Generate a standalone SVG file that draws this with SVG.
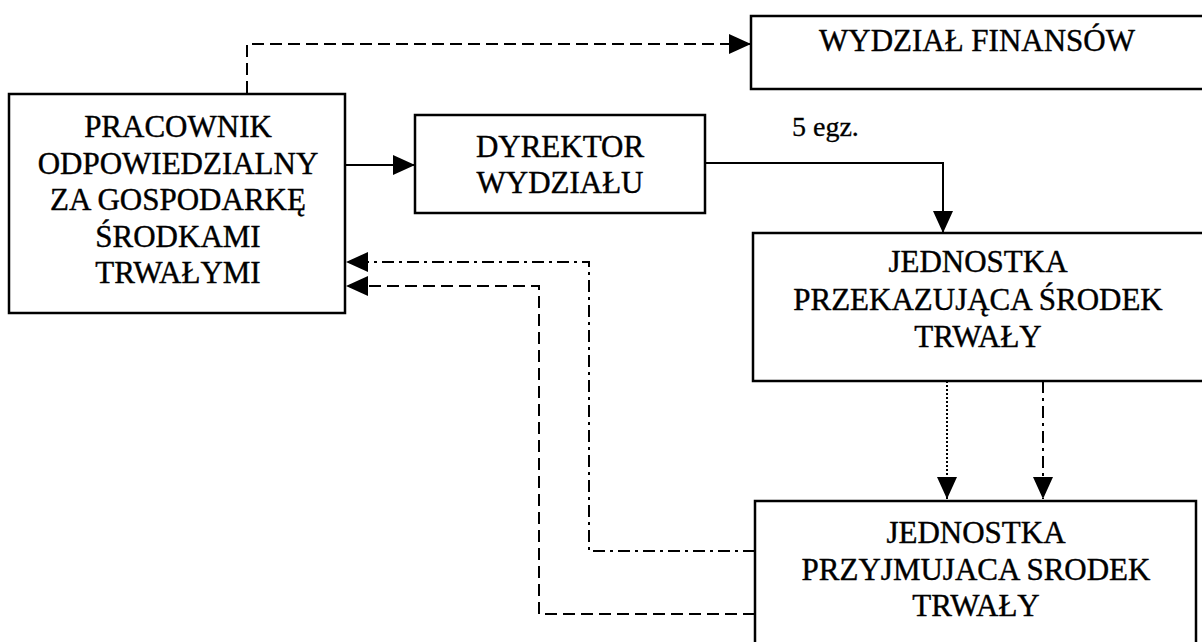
<svg xmlns="http://www.w3.org/2000/svg" width="1202" height="642" viewBox="0 0 1202 642">
<style>
.box{fill:#fff;stroke:#000;stroke-width:2.5}
.t{font-family:"Liberation Serif","Times New Roman",serif;font-size:31px;fill:#000;stroke:#000;stroke-width:0.4;text-anchor:middle}
.s{font-family:"Liberation Serif","Times New Roman",serif;font-size:28px;fill:#000;stroke:#000;stroke-width:0.3}
.ln{fill:none;stroke:#000;stroke-width:2}
.dash{stroke-dasharray:12 6}
.dd{stroke-dasharray:12 5 3 5}
.dot{stroke-dasharray:2 2}
</style>
<defs>
<marker id="ah" viewBox="0 0 22 20" refX="22" refY="10" markerWidth="22" markerHeight="20" markerUnits="userSpaceOnUse" orient="auto">
<path d="M0,0 L22,10 L0,20 Z" fill="#000"/>
</marker>
</defs>
<rect width="1202" height="642" fill="#fff"/>
<g id="connectors">
<path class="ln dash" d="M247,93 V44 H751" marker-end="url(#ah)"/>
<path class="ln" d="M345,165 H415" marker-end="url(#ah)"/>
<path class="ln" d="M705,163 H943 V233" marker-end="url(#ah)"/>
<path class="ln dot" d="M947,381 V499" marker-end="url(#ah)"/>
<path class="ln dd" d="M1043,381 V499" marker-end="url(#ah)"/>
<path class="ln dd" d="M755,551 H589 V262 H346" marker-end="url(#ah)"/>
<path class="ln dash" d="M755,614 H539 V286 H346" marker-end="url(#ah)"/>
</g>
<g id="finanse">
<rect class="box" x="751" y="16" width="455" height="73"/>
<text class="t" x="977" y="51">WYDZIAŁ FINANSÓW</text>
</g>
<g id="pracownik">
<rect class="box" x="9" y="94" width="336" height="219"/>
<text class="t" x="178" y="137">PRACOWNIK</text>
<text class="t" x="178" y="173.5">ODPOWIEDZIALNY</text>
<text class="t" x="178" y="210">ZA GOSPODARKĘ</text>
<text class="t" x="178" y="246.5">ŚRODKAMI</text>
<text class="t" x="178" y="283">TRWAŁYMI</text>
</g>
<g id="dyrektor">
<rect class="box" x="415" y="115" width="290" height="98"/>
<text class="t" x="560" y="157">DYREKTOR</text>
<text class="t" x="560" y="193">WYDZIAŁU</text>
</g>
<g id="egz">
<text class="s" x="792" y="136">5 egz.</text>
</g>
<g id="przekazujaca">
<rect class="box" x="753" y="233" width="453" height="148"/>
<text class="t" x="978" y="272">JEDNOSTKA</text>
<text class="t" x="978" y="310">PRZEKAZUJĄCA ŚRODEK</text>
<text class="t" x="978" y="347">TRWAŁY</text>
</g>
<g id="przyjmujaca">
<rect class="box" x="755" y="501" width="441" height="150"/>
<text class="t" x="976" y="543">JEDNOSTKA</text>
<text class="t" x="976" y="580">PRZYJMUJACA SRODEK</text>
<text class="t" x="976" y="616">TRWAŁY</text>
</g>
</svg>
